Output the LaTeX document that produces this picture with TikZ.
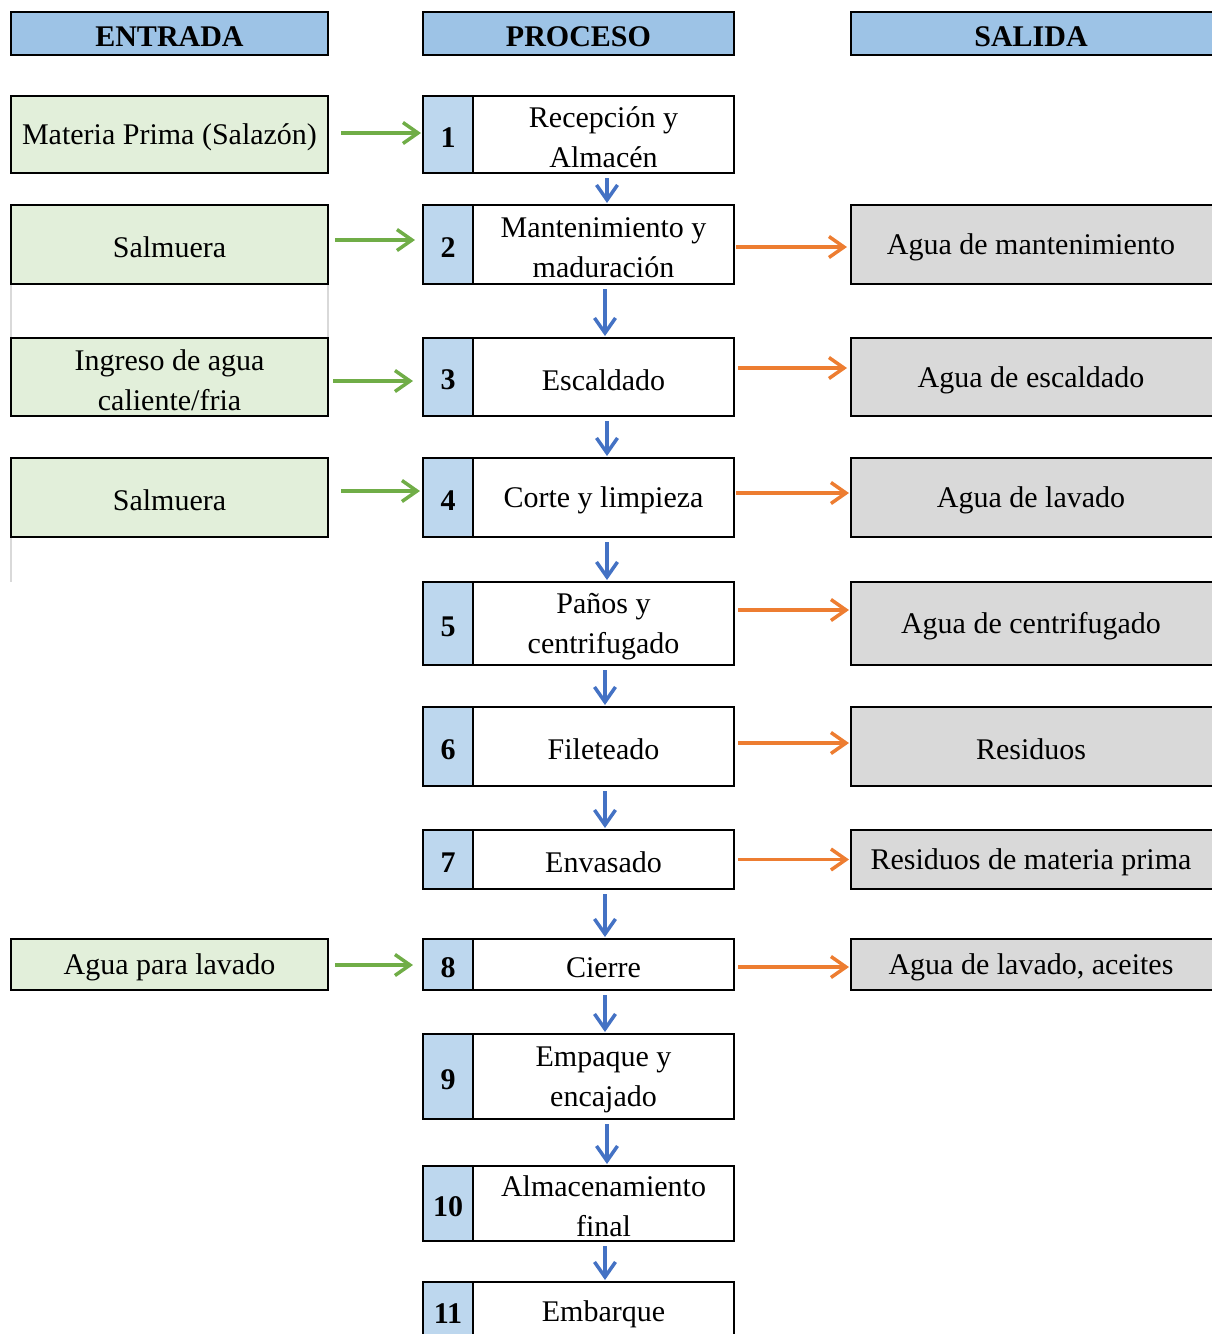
\documentclass[tikz,border=0pt]{standalone}
\usepackage{fontspec}
\setmainfont{Liberation Serif}
\usetikzlibrary{arrows.meta}
\definecolor{hdrblue}{HTML}{9DC3E6}
\definecolor{numblue}{HTML}{BDD7EE}
\definecolor{ingreen}{HTML}{E2EFDA}
\definecolor{outgray}{HTML}{D9D9D9}
\definecolor{arrgreen}{HTML}{70AD47}
\definecolor{arrorange}{HTML}{ED7D31}
\definecolor{arrblue}{HTML}{4472C4}
\definecolor{gridgray}{HTML}{D9D9D9}
\tikzset{
  textlbl/.style={inner sep=0pt, align=center, yshift=-3pt, font=\fontsize{30}{40}\selectfont},
  boldlbl/.style={textlbl, font=\fontsize{30}{40}\selectfont\bfseries},
  txt/.style={label={[textlbl]center:{#1}}},
  txtr/.style={label={[textlbl, xshift=-1.5pt]center:{#1}}},
  btxt/.style={label={[boldlbl]center:{#1}}},
  btxtr/.style={label={[boldlbl, xshift=-1.5pt]center:{#1}}},
  base/.style={draw=black, line width=2pt, inner sep=0pt},
  hdr/.style={base, fill=hdrblue, minimum height=43pt},
  inbox/.style={base, fill=ingreen, minimum width=317pt},
  outbox/.style={base, fill=outgray, minimum width=363pt},
  numbox/.style={base, fill=numblue, minimum width=50pt},
  txtbox/.style={base, fill=white, minimum width=261pt},
  tipstyle/.style={-{Straight Barb[length=15pt,width=21pt]}, line width=3.5pt},
  garrow/.style={tipstyle, draw=arrgreen},
  oarrow/.style={tipstyle, draw=arrorange},
  barrow/.style={tipstyle, draw=arrblue, shorten <=4pt, shorten >=1pt},
  grid/.style={draw=gridgray, line width=1.5pt}
}
\begin{document}
\begin{tikzpicture}[x=1pt,y=1pt]
\useasboundingbox (0,0) rectangle (1212,-1334);
% faint grid remnants
\draw[grid] (11,-284) -- (11,-338);
\draw[grid] (328,-284) -- (328,-338);
\draw[grid] (11,-537) -- (11,-582);
% headers
\node[hdr, minimum width=317pt, btxt={ENTRADA}] (hin) at (169.5,-33.5) {};
\node[hdr, minimum width=311pt, btxt={PROCESO}] (hpr) at (578.5,-33.5) {};
\node[hdr, minimum width=363pt, btxtr={SALIDA}] (hout) at (1032.5,-33.5) {};
% process column
\node[numbox, minimum height=77pt, btxt={1}] (n1) at (448,-134.5) {};
\node[txtbox, minimum height=77pt, txt={Recepción y\\Almacén}] (t1) at (603.5,-134.5) {};
\node[numbox, minimum height=79pt, btxt={2}] (n2) at (448,-244.5) {};
\node[txtbox, minimum height=79pt, txt={Mantenimiento y\\maduración}] (t2) at (603.5,-244.5) {};
\node[numbox, minimum height=78pt, btxt={3}] (n3) at (448,-377) {};
\node[txtbox, minimum height=78pt, txt={Escaldado}] (t3) at (603.5,-377) {};
\node[numbox, minimum height=79pt, btxt={4}] (n4) at (448,-497.5) {};
\node[txtbox, minimum height=79pt, txt={Corte y limpieza}] (t4) at (603.5,-497.5) {};
\node[numbox, minimum height=83pt, btxt={5}] (n5) at (448,-623.5) {};
\node[txtbox, minimum height=83pt, txt={Paños y\\centrifugado}] (t5) at (603.5,-623.5) {};
\node[numbox, minimum height=79pt, btxt={6}] (n6) at (448,-746.5) {};
\node[txtbox, minimum height=79pt, txt={Fileteado}] (t6) at (603.5,-746.5) {};
\node[numbox, minimum height=59pt, btxt={7}] (n7) at (448,-859.5) {};
\node[txtbox, minimum height=59pt, txt={Envasado}] (t7) at (603.5,-859.5) {};
\node[numbox, minimum height=51pt, btxt={8}] (n8) at (448,-964.5) {};
\node[txtbox, minimum height=51pt, txt={Cierre}] (t8) at (603.5,-964.5) {};
\node[numbox, minimum height=85pt, btxt={9}] (n9) at (448,-1076.5) {};
\node[txtbox, minimum height=85pt, txt={Empaque y\\encajado}] (t9) at (603.5,-1076.5) {};
\node[numbox, minimum height=75pt, btxt={10}] (n10) at (448,-1203.5) {};
\node[txtbox, minimum height=75pt, txt={Almacenamiento\\final}] (t10) at (603.5,-1203.5) {};
\node[numbox, minimum height=58pt, btxt={11}] (n11) at (448,-1311) {};
\node[txtbox, minimum height=58pt, txt={Embarque}] (t11) at (603.5,-1311) {};
% input column
\node[inbox, minimum height=77pt, txt={Materia Prima (Salazón)}] (i1) at (169.5,-134.5) {};
\node[inbox, minimum height=79pt, txt={Salmuera}] (i2) at (169.5,-244.5) {};
\node[inbox, minimum height=78pt, txt={Ingreso de agua\\caliente/fria}] (i3) at (169.5,-377) {};
\node[inbox, minimum height=79pt, txt={Salmuera}] (i4) at (169.5,-497.5) {};
\node[inbox, minimum height=51pt, txt={Agua para lavado}] (i8) at (169.5,-964.5) {};
% output column
\node[outbox, minimum height=79pt, txtr={Agua de mantenimiento}] (o2) at (1032.5,-244.5) {};
\node[outbox, minimum height=78pt, txtr={Agua de escaldado}] (o3) at (1032.5,-377) {};
\node[outbox, minimum height=79pt, txtr={Agua de lavado}] (o4) at (1032.5,-497.5) {};
\node[outbox, minimum height=83pt, txtr={Agua de centrifugado}] (o5) at (1032.5,-623.5) {};
\node[outbox, minimum height=79pt, txtr={Residuos}] (o6) at (1032.5,-746.5) {};
\node[outbox, minimum height=59pt, txtr={Residuos de materia prima}] (o7) at (1032.5,-859.5) {};
\node[outbox, minimum height=51pt, txtr={Agua de lavado, aceites}] (o8) at (1032.5,-964.5) {};
% green input arrows
\draw[garrow] ([xshift=12pt,yshift=1.5pt]i1.east) -- ([xshift=-1pt,yshift=1.5pt]n1.west);
\draw[garrow] ([xshift=6pt,yshift=4.5pt]i2.east) -- ([xshift=-7pt,yshift=4.5pt]n2.west);
\draw[garrow] ([xshift=4pt,yshift=-4pt]i3.east) -- ([xshift=-9pt,yshift=-4pt]n3.west);
\draw[garrow] ([xshift=12pt,yshift=6.5pt]i4.east) -- ([xshift=-2pt,yshift=6.5pt]n4.west);
\draw[garrow] ([xshift=6pt,yshift=-0.5pt]i8.east) -- ([xshift=-9pt,yshift=-0.5pt]n8.west);
% orange output arrows
\draw[oarrow] ([xshift=1pt,yshift=-2.5pt]t2.east) -- ([xshift=-3pt,yshift=-2.5pt]o2.west);
\draw[oarrow] ([xshift=3pt,yshift=9pt]t3.east) -- ([xshift=-3pt,yshift=9pt]o3.west);
\draw[oarrow] ([xshift=1pt,yshift=4.5pt]t4.east) -- ([xshift=-1pt,yshift=4.5pt]o4.west);
\draw[oarrow] ([xshift=3pt,yshift=13.5pt]t5.east) -- ([xshift=-1pt,yshift=13.5pt]o5.west);
\draw[oarrow] ([xshift=3pt,yshift=3.5pt]t6.east) -- ([xshift=-1pt,yshift=3.5pt]o6.west);
\draw[oarrow] ([xshift=3pt]t7.east) -- ([xshift=-1pt]o7.west);
\draw[oarrow] ([xshift=3pt,yshift=-2.5pt]t8.east) -- ([xshift=-1pt,yshift=-2.5pt]o8.west);
% blue process arrows
\draw[barrow] ([xshift=3.5pt]t1.south) -- ([xshift=3.5pt]t2.north);
\draw[barrow] ([xshift=1.5pt]t2.south) -- ([xshift=1.5pt]t3.north);
\draw[barrow] ([xshift=3.5pt]t3.south) -- ([xshift=3.5pt]t4.north);
\draw[barrow] ([xshift=3.5pt]t4.south) -- ([xshift=3.5pt]t5.north);
\draw[barrow] ([xshift=1.5pt]t5.south) -- ([xshift=1.5pt]t6.north);
\draw[barrow] ([xshift=1.5pt]t6.south) -- ([xshift=1.5pt]t7.north);
\draw[barrow] ([xshift=1.5pt]t7.south) -- ([xshift=1.5pt]t8.north);
\draw[barrow] ([xshift=1.5pt]t8.south) -- ([xshift=1.5pt]t9.north);
\draw[barrow] ([xshift=3.5pt]t9.south) -- ([xshift=3.5pt]t10.north);
\draw[barrow] ([xshift=1.5pt]t10.south) -- ([xshift=1.5pt]t11.north);
\end{tikzpicture}
\end{document}
